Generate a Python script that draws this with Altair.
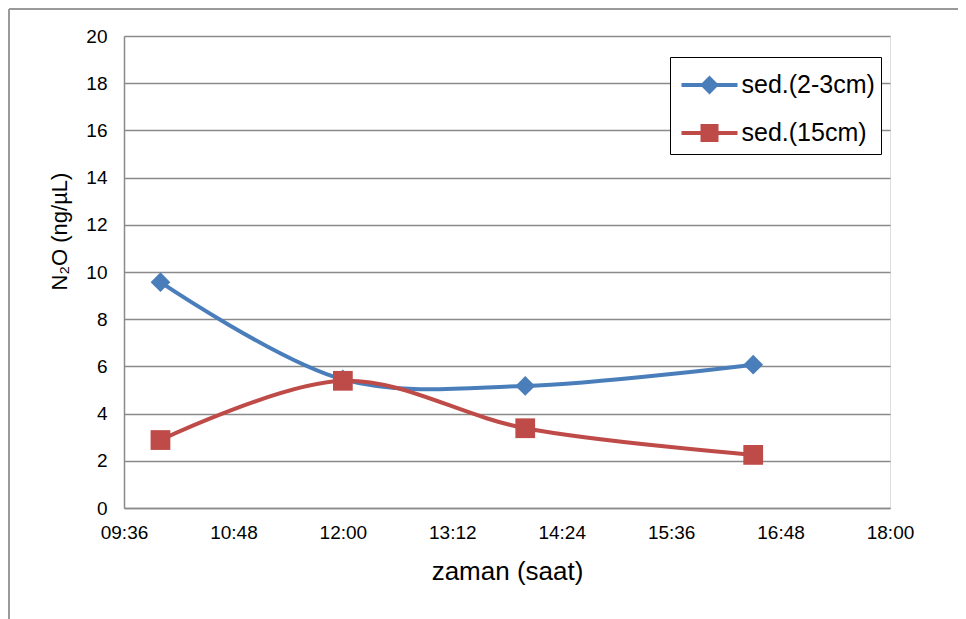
import altair as alt
import pandas as pd

# ---- data ----
times = ["10:00", "12:00", "14:00", "16:30"]
series_names = ["sed.(2-3cm)", "sed.(15cm)"]
shallow = [9.57, 5.45, 5.17, 6.07]   # sed.(2-3cm)
deep = [2.88, 5.39, 3.38, 2.25]      # sed.(15cm)
x_ticks = ["09:36", "10:48", "12:00", "13:12", "14:24", "15:36", "16:48", "18:00"]
y_ticks = [0, 2, 4, 6, 8, 10, 12, 14, 16, 18, 20]
colors = ["#4A7EBB", "#BE4B48"]
marker_shapes = ["diamond", "square"]


def to_min(t):
    h, m = t.split(":")
    return int(h) * 60 + int(m)


rows = []
for name, vals in zip(series_names, [shallow, deep]):
    for t, v in zip(times, vals):
        rows.append({"series": name, "minutes": to_min(t), "value": v})
df = pd.DataFrame(rows)
tick_vals = [to_min(t) for t in x_ticks]

FONT = "Liberation Sans"
GRID = "#8a8a8a"

label_expr = ("(floor(datum.value/60) < 10 ? '0' : '') + floor(datum.value/60) + ':' + "
              "(datum.value % 60 < 10 ? '0' : '') + (datum.value % 60)")

x_enc = alt.X(
    "minutes:Q",
    scale=alt.Scale(domain=[tick_vals[0], tick_vals[-1]], nice=False, zero=False),
    axis=alt.Axis(values=tick_vals, labelExpr=label_expr, title="zaman (saat)",
                  grid=False, ticks=False, tickSize=0, domainColor=GRID, domainWidth=1.5,
                  labelFontSize=19, titleFontSize=26, labelFlush=False, labelOverlap=False,
                  labelPadding=15, titlePadding=16, labelColor="black", titleColor="black",
                  titleFontWeight="normal", labelFont=FONT, titleFont=FONT),
)
y_enc = alt.Y(
    "value:Q",
    scale=alt.Scale(domain=[0, 20], nice=False),
    axis=alt.Axis(values=y_ticks, title="N₂O (ng/µL)", grid=True, gridColor=GRID,
                  gridWidth=1.5, ticks=False, tickSize=0, domainColor=GRID, domainWidth=1.5,
                  labelFontSize=19, titleFontSize=22, labelPadding=17, titlePadding=14,
                  titleY=195, labelColor="black", titleColor="black",
                  titleFontWeight="normal", labelFont=FONT, titleFont=FONT),
)

color_scale = alt.Scale(domain=series_names, range=colors)

# legend symbols: a line with the marker on it (nested outlines give a solid marker)
path_a = ("M-1.4,0H1.4M0,-0.33L0.33,0L0,0.33L-0.33,0ZM0,-0.2L0.2,0L0,0.2L-0.2,0Z"
          "M0,-0.07L0.07,0L0,0.07L-0.07,0Z")
path_b = ("M-1.4,0H1.4M-0.35,-0.35H0.35V0.35H-0.35ZM-0.22,-0.22H0.22V0.22H-0.22Z"
          "M-0.09,-0.09H0.09V0.09H-0.09Z")
legend = alt.Legend(
    title=None, orient="none", legendX=546, legendY=21, padding=6,
    strokeColor="black", fillColor="white", labelFontSize=25, labelFont=FONT,
    labelColor="black", symbolSize=1600, symbolStrokeWidth=4, symbolOpacity=1,
    symbolOffset=11.5, labelOffset=10, rowPadding=11, labelLimit=400,
    labelExpr="datum.label + '\u00a0\u00a0'",
)

base = alt.Chart(df)
# invisible layer that carries the legend (first so that its legend settings win)
legend_layer = base.mark_point(filled=False, opacity=0, strokeWidth=4).encode(
    x=x_enc, y=y_enc,
    color=alt.Color("series:N", scale=color_scale, legend=legend),
    shape=alt.Shape("series:N", scale=alt.Scale(domain=series_names, range=[path_a, path_b]),
                    legend=legend),
)
lines = base.mark_line(strokeWidth=4, interpolate="catmull-rom").encode(
    x=x_enc, y=y_enc,
    color=alt.Color("series:N", scale=color_scale, legend=None),
    detail="series:N",
)
marker_layers = []
for name, shp in zip(series_names, marker_shapes):
    marker_layers.append(
        base.transform_filter(alt.datum.series == name)
        .mark_point(filled=True, size=390, opacity=1, shape=shp)
        .encode(x=x_enc, y=y_enc,
                color=alt.Color("series:N", scale=color_scale, legend=None))
    )

frame_data = alt.Data(values=[{"k": 0}])
top_rule = alt.Chart(frame_data).mark_rule(color="#9a9a9a", strokeWidth=2).encode(
    x=alt.value(-115), x2=alt.value(834), y=alt.value(-27))
left_rule = alt.Chart(frame_data).mark_rule(color="#9a9a9a", strokeWidth=2).encode(
    x=alt.value(-115), y=alt.value(-27), y2=alt.value(600))

chart = alt.layer(legend_layer, lines, *marker_layers, top_rule, left_rule).properties(
    width=766, height=472,
    autosize=alt.AutoSizeParams(type="none"),
    padding={"left": 116, "top": 28, "right": 68, "bottom": 120},
).configure_view(stroke=None).configure(font=FONT, background="white")

chart.save("out.html", embed_options={"renderer": "svg", "actions": False})
